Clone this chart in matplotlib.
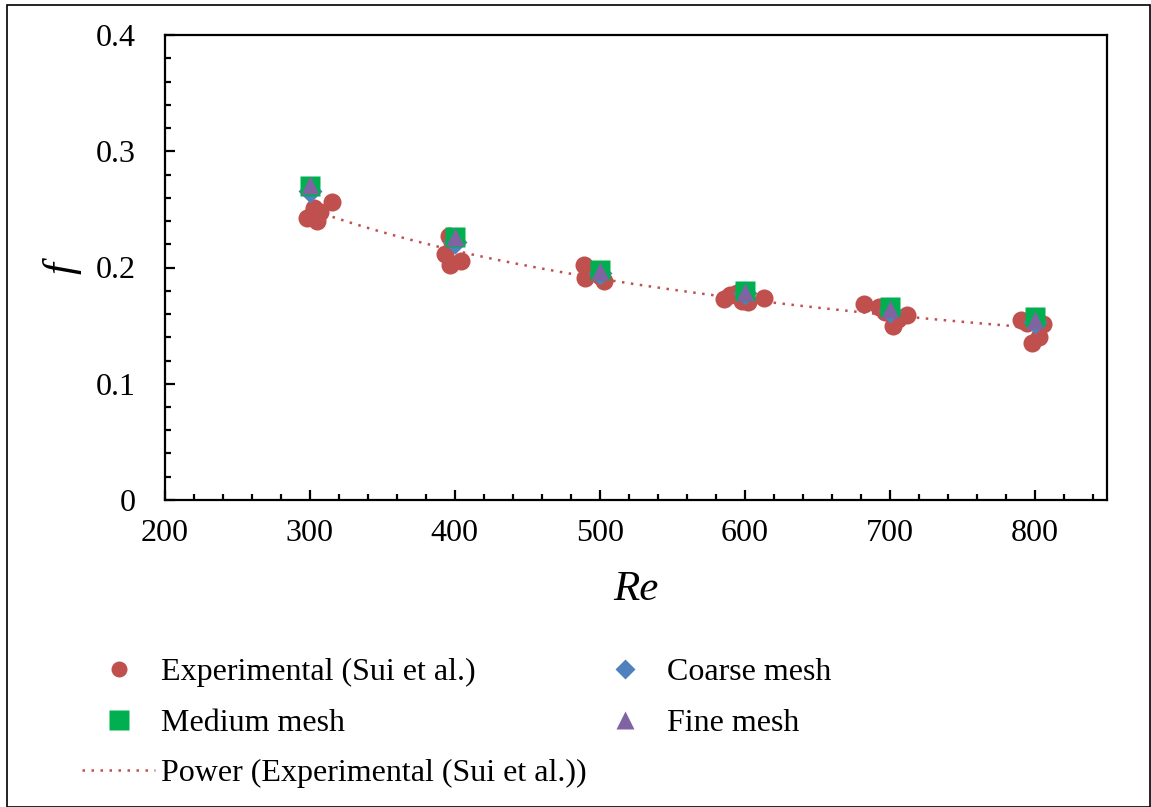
import numpy as np
import matplotlib
matplotlib.use("Agg")
import matplotlib.pyplot as plt
from matplotlib.lines import Line2D
from matplotlib.patches import Rectangle

# ---- data ----
re_exp = [298, 302, 303, 305, 307, 315,
          393, 396, 397, 398, 404,
          489, 490, 492, 500, 503,
          586, 590, 595, 598, 602, 613,
          682, 693, 697, 702, 706, 712,
          791, 795, 798, 803, 806]
f_exp = [0.243, 0.247, 0.251, 0.240, 0.248, 0.256,
         0.212, 0.227, 0.202, 0.222, 0.206,
         0.202, 0.191, 0.196, 0.193, 0.188,
         0.173, 0.176, 0.178, 0.171, 0.170, 0.174,
         0.169, 0.166, 0.162, 0.150, 0.156, 0.159,
         0.155, 0.152, 0.135, 0.140, 0.151]

re_sim = [300, 400, 500, 600, 700, 800]
f_coarse = [0.266, 0.222, 0.195, 0.178, 0.163, 0.153]
f_medium = [0.270, 0.226, 0.198, 0.180, 0.166, 0.157]
f_fine = [0.271, 0.226, 0.197, 0.179, 0.164, 0.155]

x_ticks = [200, 300, 400, 500, 600, 700, 800]
y_ticks = [0, 0.1, 0.2, 0.3, 0.4]

labels = ["Experimental (Sui et al.)", "Coarse mesh", "Medium mesh",
          "Fine mesh", "Power (Experimental (Sui et al.))"]

# ---- style ----
plt.rcParams['font.family'] = ['Liberation Serif', 'DejaVu Serif']
c_exp = "#C0504D"
c_coarse = "#4F81BD"
c_medium = "#00B050"
c_fine = "#8064A2"

W, H = 1151, 807
fig = plt.figure(figsize=(W / 100, H / 100), dpi=100)
ax = fig.add_axes([165 / W, 1 - 500 / H, (1107 - 165) / W, (500 - 35) / H])

# power trendline fit in log space
b, ln_a = np.polyfit(np.log(re_exp), np.log(f_exp), 1)
re_fit = np.linspace(min(re_exp), max(re_exp), 200)
f_fit = np.exp(ln_a) * re_fit ** b

ax.plot(re_exp, f_exp, 'o', color=c_exp, ms=13, mec='none', zorder=2)
ax.plot(re_fit, f_fit, color=c_exp, lw=1.8, dashes=(1, 2.6), zorder=3)
ax.plot(re_sim, f_coarse, 'D', color=c_coarse, ms=12.5, mec='none', zorder=4)
ax.plot(re_sim, f_medium, 's', color=c_medium, ms=14.5, mec='none', zorder=5)
ax.plot(re_sim, f_fine, '^', color=c_fine, ms=13.5, mec='none', zorder=6)

ax.set_xlim(200, 850)
ax.set_ylim(0, 0.4)
ax.set_xticks(x_ticks)
ax.set_xticklabels([str(v) for v in x_ticks])
ax.set_yticks(y_ticks)
ax.set_yticklabels(["0" if v == 0 else f"{v:.1f}" for v in y_ticks])
ax.set_xticks(np.arange(200, 851, 20), minor=True)
ax.set_yticks(np.arange(0, 0.401, 0.02), minor=True)

for s in ax.spines.values():
    s.set_linewidth(1.6)
ax.tick_params(which='major', direction='in', length=7, width=1.6,
               labelsize=23, top=False, right=False)
ax.tick_params(axis='y', which='major', pad=21)
ax.tick_params(axis='x', which='major', pad=14)
ax.tick_params(which='minor', direction='in', length=4.5, width=1.6,
               top=False, right=False)

ax.set_xlabel("Re", fontsize=31, style='italic', labelpad=16)
ax.set_ylabel("f", fontsize=31, style='italic', labelpad=10)

# ---- legend ----
h_exp = Line2D([], [], ls='none', marker='o', color=c_exp, ms=11.5, mec='none')
h_coarse = Line2D([], [], ls='none', marker='D', color=c_coarse, ms=10.5, mec='none')
h_medium = Line2D([], [], ls='none', marker='s', color=c_medium, ms=14.5, mec='none')
h_fine = Line2D([], [], ls='none', marker='^', color=c_fine, ms=13.5, mec='none')
h_pow = Line2D([], [], color=c_exp, lw=1.8, dashes=(1, 2.6))

common = dict(loc='upper left', frameon=False, fontsize=23, handlelength=2.3,
              handletextpad=0.16, labelspacing=0.66, borderpad=0,
              borderaxespad=0)
leg1 = fig.legend([h_exp, h_medium, h_pow], [labels[0], labels[2], labels[4]],
                  bbox_to_anchor=(82 / W, 1 - 658 / H), **common)
leg2 = fig.legend([h_coarse, h_fine], [labels[1], labels[3]],
                  bbox_to_anchor=(588.5 / W, 1 - 658 / H), **common)

# figure border
fig.patches.append(Rectangle((7 / W, 0.5 / H), (W - 8) / W, (H - 5) / H,
                             transform=fig.transFigure, fill=False,
                             edgecolor='black', lw=1.2))

fig.savefig("out.png", dpi=100)
